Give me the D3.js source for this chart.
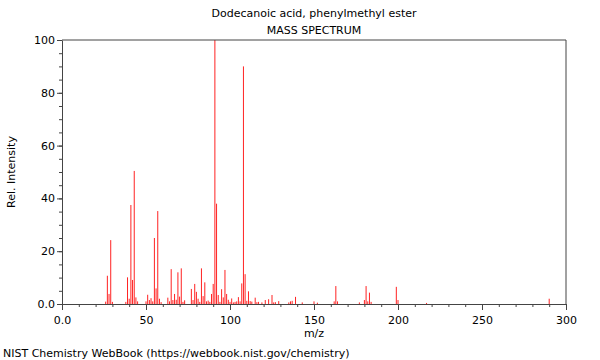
<!DOCTYPE html>
<html>
<head>
<meta charset="utf-8">
<script src="https://cdn.jsdelivr.net/npm/d3@7"></script>
<style>
  body { margin: 0; background: #fff; }
  text { font-family: "DejaVu Sans", sans-serif; }
</style>
</head>
<body>
<svg id="spectrum" width="600" height="360"></svg>
<script>
// peaks (m/z, relative intensity)
const mzValues = [
  26, 27, 28, 29, 30, 38, 39, 40, 41, 42, 43, 44, 45, 50, 51, 52, 53, 54, 55, 56,
  57, 58, 59, 63, 64, 65, 66, 67, 68, 69, 70, 71, 72, 73, 77, 78, 79, 80, 81, 82,
  83, 84, 85, 86, 87, 88, 89, 90, 91, 92, 93, 94, 95, 96, 97, 98, 99, 100, 101, 102,
  103, 104, 105, 106, 107, 108, 109, 110, 111, 112, 113, 115, 116, 117, 119, 121, 123, 125, 126, 127,
  129, 135, 136, 137, 139, 143, 150, 152, 162, 163, 164, 177, 180, 181, 182, 183, 184, 199, 200, 217,
  290
];
const intensities = [
  0.9, 10.7, 3.8, 24.2, 0.8, 0.8, 10.1, 2.0, 37.5, 9.1, 50.4, 2.5, 1.0, 1.0, 3.5, 1.5, 2.2, 1.0, 25.0, 5.9,
  35.2, 2.0, 0.7, 2.4, 1.0, 13.2, 1.5, 3.8, 1.6, 12.0, 2.8, 13.5, 0.8, 1.4, 5.7, 1.5, 7.6, 4.6, 2.0, 0.8,
  13.5, 3.0, 8.2, 1.0, 1.3, 0.8, 3.8, 7.6, 100, 38.0, 3.4, 0.8, 5.6, 2.5, 12.9, 3.8, 1.6, 0.8, 2.1, 0.6,
  0.8, 1.0, 2.6, 1.0, 7.8, 90.0, 11.3, 1.2, 4.8, 1.1, 0.9, 2.4, 0.7, 0.8, 0.6, 1.5, 1.8, 3.4, 0.6, 0.7,
  1.1, 0.6, 1.0, 1.2, 2.7, 0.6, 1.0, 0.5, 1.0, 6.8, 1.0, 0.6, 1.5, 6.8, 1.0, 4.3, 0.8, 6.5, 1.5, 0.4,
  2.0
];
const xMajorTicks = [0, 50, 100, 150, 200, 250, 300];
const yMajorTicks = [0, 20, 40, 60, 80, 100];

const peaks = mzValues.map((m, i) => ({ mz: m, rel: intensities[i] }));

const margin = { top: 40, right: 34, bottom: 56, left: 62 };
const width = 600 - margin.left - margin.right;
const height = 360 - margin.top - margin.bottom;

const svg = d3.select('#spectrum');
const g = svg.append('g').attr('transform', `translate(${margin.left},${margin.top})`);

const xScale = d3.scaleLinear().domain([0, 300]).range([0, width]);
const yScale = d3.scaleLinear().domain([0, 100]).range([height, 0]);

// spectrum lines
g.selectAll('line.peak')
  .data(peaks)
  .enter()
  .append('line')
  .attr('class', 'peak')
  .attr('x1', (d) => xScale(d.mz))
  .attr('x2', (d) => xScale(d.mz))
  .attr('y1', yScale(0))
  .attr('y2', (d) => yScale(d.rel))
  .attr('stroke', '#f22')
  .attr('stroke-width', 1);

const fmt = (d) => (d === 0 ? '0.0' : d);

// x axis: minor then major
g.append('g')
  .attr('transform', `translate(0,${height})`)
  .call(d3.axisBottom(xScale).tickValues(d3.range(0, 301, 10)).tickSize(3).tickFormat(''))
  .call((a) => a.select('.domain').remove());
const xAxis = g.append('g')
  .attr('transform', `translate(0,${height})`)
  .call(d3.axisBottom(xScale).tickValues(xMajorTicks).tickSize(6).tickSizeOuter(0).tickFormat(fmt));

// y axis: minor then major
g.append('g')
  .call(d3.axisLeft(yScale).tickValues(d3.range(0, 101, 5)).tickSize(3).tickFormat(''))
  .call((a) => a.select('.domain').remove());
const yAxis = g.append('g')
  .call(d3.axisLeft(yScale).tickValues(yMajorTicks).tickSize(5).tickSizeOuter(0).tickFormat(fmt));

g.selectAll('.tick line').attr('stroke', '#444');
g.selectAll('.domain').attr('stroke', '#444');
xAxis.selectAll('text').style('font-size', '11px').attr('fill', '#000').attr('dy', '1.0em');
yAxis.selectAll('text').style('font-size', '11px').attr('fill', '#000').attr('x', -7);

// frame top / right
g.append('line').attr('x1', 0).attr('x2', width).attr('y1', 0).attr('y2', 0)
  .attr('stroke', '#444');
g.append('line').attr('x1', width).attr('x2', width).attr('y1', 0).attr('y2', height)
  .attr('stroke', '#444');

// titles
svg.append('text')
  .attr('x', margin.left + width / 2)
  .attr('y', 17)
  .attr('text-anchor', 'middle')
  .style('font-size', '11px')
  .text('Dodecanoic acid, phenylmethyl ester');

svg.append('text')
  .attr('x', margin.left + width / 2)
  .attr('y', 34)
  .attr('text-anchor', 'middle')
  .style('font-size', '11px')
  .text('MASS SPECTRUM');

svg.append('text')
  .attr('x', margin.left + width / 2)
  .attr('y', 337)
  .attr('text-anchor', 'middle')
  .style('font-size', '11px')
  .text('m/z');

svg.append('text')
  .attr('transform', 'rotate(-90)')
  .attr('x', -(margin.top + height / 2))
  .attr('y', 15)
  .attr('text-anchor', 'middle')
  .style('font-size', '11px')
  .text('Rel. Intensity');

svg.append('text')
  .attr('x', 3)
  .attr('y', 357)
  .style('font-size', '11px')
  .text('NIST Chemistry WebBook (https://webbook.nist.gov/chemistry)');
</script>
</body>
</html>
